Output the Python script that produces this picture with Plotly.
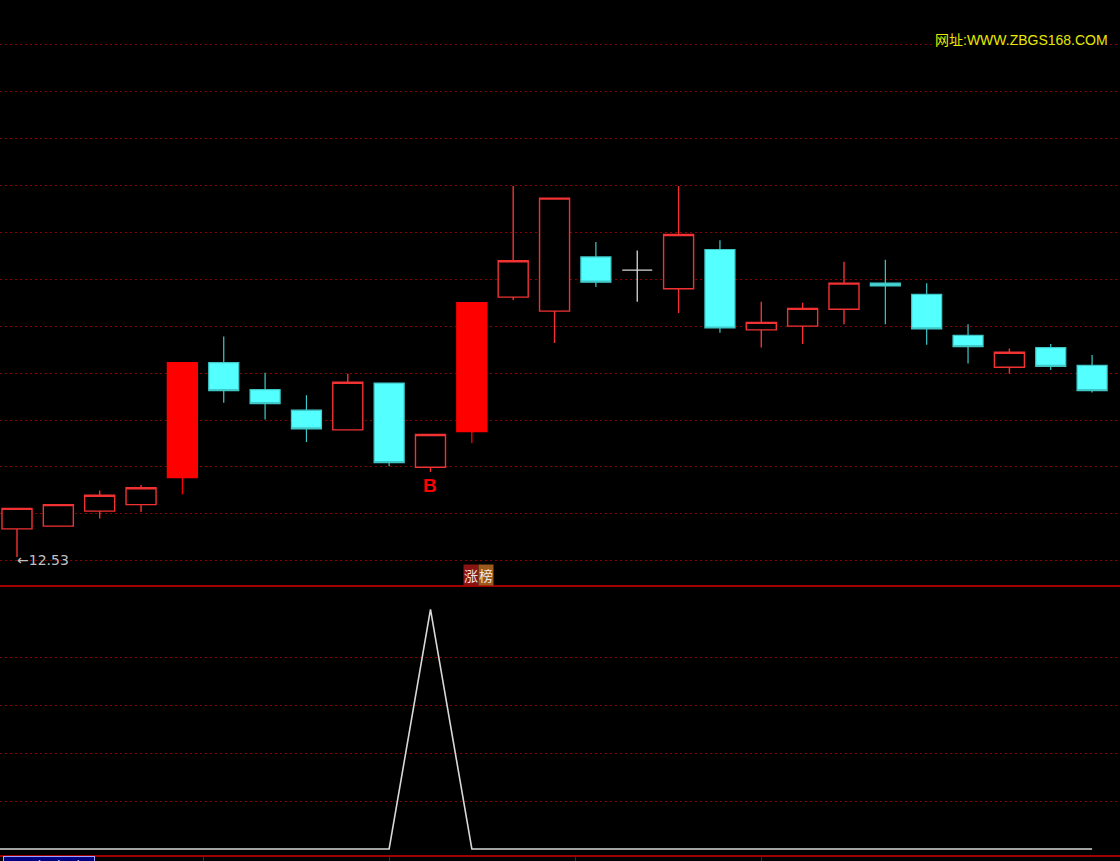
import plotly.graph_objects as go
from plotly.subplots import make_subplots

# 日K数据
days = list(range(27))
opens = [12.83, 12.86, 13.02, 13.09, 13.38, 14.61, 14.32, 14.10, 13.89, 14.39, 13.49, 13.87, 15.31, 15.16,
         15.74, 15.60, 15.40, 15.82, 14.96, 15.00, 15.18, 15.46, 15.34, 14.90, 14.56, 14.77, 14.58]
highs = [13.05, 13.09, 13.24, 13.30, 14.61, 14.89, 14.50, 14.26, 14.49, 14.39, 13.84, 15.25, 16.50, 16.37,
         15.90, 15.81, 16.50, 15.92, 15.26, 15.25, 15.69, 15.71, 15.46, 15.02, 14.76, 14.81, 14.69]
lows = [12.53, 12.86, 12.94, 13.01, 13.20, 14.18, 14.00, 13.76, 13.89, 13.50, 13.44, 13.75, 15.28, 14.82,
        15.42, 15.26, 15.14, 14.93, 14.77, 14.81, 15.02, 15.02, 14.80, 14.60, 14.49, 14.53, 14.29]
closes = [13.05, 13.09, 13.19, 13.27, 14.61, 14.31, 14.17, 13.90, 14.40, 13.54, 13.84, 15.25, 15.70, 16.37,
          15.47, 15.60, 15.98, 14.98, 15.04, 15.19, 15.46, 15.43, 14.97, 14.78, 14.72, 14.57, 14.31]

# 涨榜 指标 (第一个值是画面左侧之外的前一天)
signal_days = list(range(-1, 27))
signal = [0, 0, 0, 0, 0, 0, 0, 0, 0, 0, 0, 1, 0, 0, 0, 0, 0, 0, 0, 0, 0, 0, 0, 0, 0, 0, 0, 0]

buy_day = 10
low_label = "12.53"

# 分组: 涨停实心红, 普通阳线空心红, 阴线青色, 十字星白色
groups = {'limit': [], 'up': [], 'down': [], 'doji': []}
for i in days:
    prev = closes[i - 1] if i > 0 else opens[i]
    if opens[i] == closes[i]:
        groups['doji'].append(i)
    elif closes[i] > opens[i] and closes[i] / prev - 1 >= 0.095:
        groups['limit'].append(i)
    elif closes[i] > opens[i]:
        groups['up'].append(i)
    else:
        groups['down'].append(i)

styles = {
    'limit': dict(line='#ff0000', fill='#ff0000', width=1.3),
    'up': dict(line='#f23232', fill='#000000', width=1.4),
    'down': dict(line='#40c8c8', fill='#54ffff', width=1.2),
    'doji': dict(line='#d8d8d8', fill='#d8d8d8', width=1.3),
}

fig = make_subplots(rows=2, cols=1, shared_xaxes=True, vertical_spacing=0)

for name, idx in groups.items():
    st = styles[name]
    side = dict(line=dict(color=st['line'], width=st['width']), fillcolor=st['fill'])
    fig.add_trace(go.Candlestick(
        x=idx,
        open=[opens[i] for i in idx],
        high=[highs[i] for i in idx],
        low=[lows[i] for i in idx],
        close=[closes[i] for i in idx],
        increasing=side,
        decreasing=side,
        showlegend=False,
        hoverinfo='skip'
    ), row=1, col=1)

fig.add_trace(go.Scatter(
    x=signal_days, y=signal, mode='lines',
    line=dict(color='#d8d8d8', width=1.6),
    showlegend=False, hoverinfo='skip'
), row=2, col=1)

grid_red = '#8c0000'
axis_red = '#a00000'

fig.update_layout(
    width=1120, height=861,
    margin=dict(l=0, r=0, t=0, b=0),
    paper_bgcolor='#000000',
    plot_bgcolor='#000000',
    boxgap=0.274, boxgroupgap=0,
    showlegend=False,
    xaxis=dict(range=[-0.411, 26.675], showgrid=False, zeroline=False, showticklabels=False,
               showline=True, linecolor=axis_red, linewidth=2, rangeslider=dict(visible=False)),
    xaxis2=dict(range=[-0.411, 26.675], showgrid=False, zeroline=False, showticklabels=False,
                showline=True, linecolor=axis_red, linewidth=2,
                ticks='outside', tickvals=[4.5, 9, 13.5, 18], ticklen=6, tickcolor=axis_red, tickwidth=1,
                rangeslider=dict(visible=False)),
    yaxis=dict(domain=[0.3206, 1], range=[12.230, 18.490], showticklabels=False, zeroline=False,
               showgrid=True, gridcolor=grid_red, gridwidth=1, griddash='2px,3px',
               tickmode='linear', tick0=12.49, dtick=0.5018),
    yaxis2=dict(domain=[0.00697, 0.3206], range=[-0.025, 1.1014], showticklabels=False, zeroline=False,
                showgrid=True, gridcolor=grid_red, gridwidth=1, griddash='2px,3px',
                tickvals=[0.2, 0.4, 0.6, 0.8]),
)

# 文字标注
fig.add_annotation(x=0, y=lows[0], xref='x', yref='y', text='←' + low_label, showarrow=False,
                   xanchor='left', yanchor='middle', yshift=-3, xshift=-2,
                   font=dict(family='DejaVu Sans, Liberation Sans', size=14, color='#c0c0c0'))
fig.add_annotation(x=buy_day, y=lows[buy_day], xref='x', yref='y', text='<b>B</b>', showarrow=False,
                   xanchor='center', yanchor='top', yshift=-1,
                   font=dict(family='Liberation Sans, DejaVu Sans', size=19, color='#ff0000'))
fig.add_annotation(x=1110 / 1120, y=1 - 40 / 861, xref='paper', yref='paper',
                   text='网址:WWW.ZBGS168.COM', showarrow=False, xanchor='right', yanchor='middle',
                   bgcolor='#000000',
                   font=dict(family='Liberation Sans, Noto Sans CJK SC', size=14, color='#e8e800'))
fig.add_annotation(x=470.5 / 1120, y=1 - 575 / 861, xref='paper', yref='paper', text='涨',
                   showarrow=False, xanchor='center', yanchor='middle', bgcolor='#8a1414', borderpad=0,
                   font=dict(family='Noto Sans CJK SC', size=14, color='#f0e0e0'))
fig.add_annotation(x=486 / 1120, y=1 - 575 / 861, xref='paper', yref='paper', text='榜',
                   showarrow=False, xanchor='center', yanchor='middle', bgcolor='#9c5a1c', borderpad=0,
                   font=dict(family='Noto Sans CJK SC', size=14, color='#f0e8e0'))
fig.add_annotation(x=3 / 1120, y=1 - 856 / 861, xref='paper', yref='paper', text='2025/03/05/三',
                   showarrow=False, xanchor='left', yanchor='top', bgcolor='#000080',
                   bordercolor='#a0a0ff', borderwidth=1, borderpad=1,
                   font=dict(family='Liberation Sans, Noto Sans CJK SC', size=14, color='#e0e0ff'))

fig.write_html("out.html", config={'displayModeBar': False},
               post_script="document.body.style.margin='0';document.body.style.background='#000';")
